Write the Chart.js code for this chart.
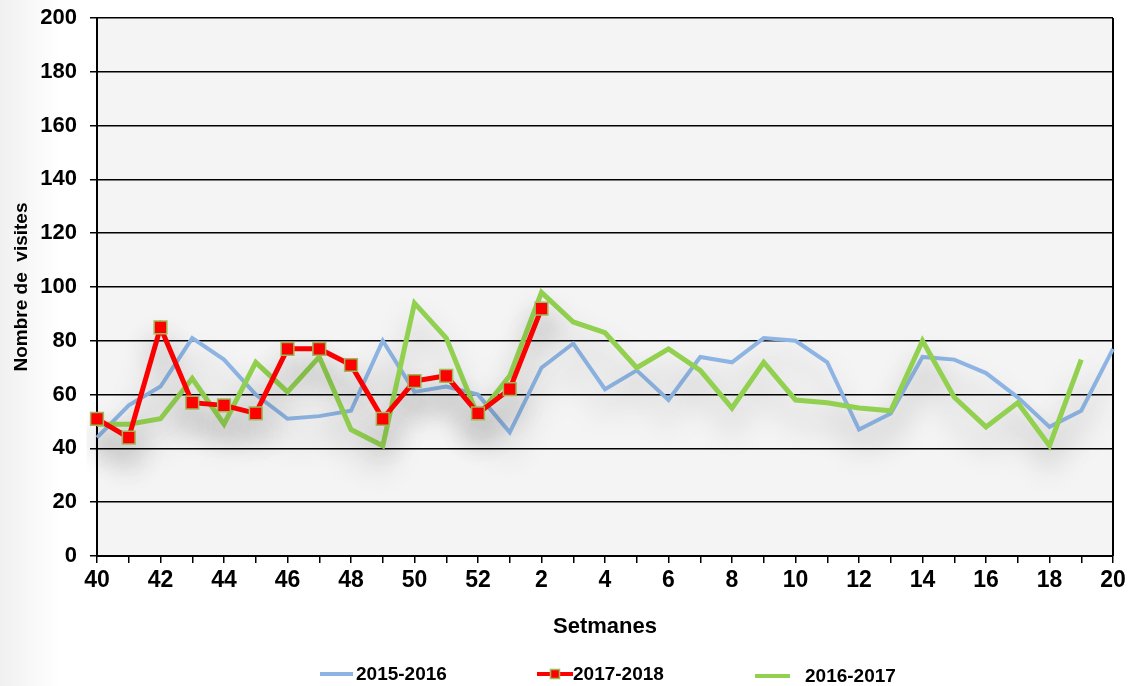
<!DOCTYPE html>
<html><head><meta charset="utf-8">
<script src="https://cdn.jsdelivr.net/npm/chart.js@4/dist/chart.umd.min.js"></script>
<style>html,body{margin:0;padding:0;background:#fff;}#wrap{width:1132px;height:686px;position:relative;}</style>
</head><body><div id="wrap"><canvas id="c" width="1132" height="686"></canvas></div>
<script>
const weeks = ['40','41','42','43','44','45','46','47','48','49','50','51','52','1','2','3','4','5','6','7','8','9','10','11','12','13','14','15','16','17','18','19','20'];
const season1516 = [44,56,63,81,73,60,51,52,54,80,61,63,60,46,70,79,62,69,58,74,72,81,80,72,47,53,74,73,68,59,48,54,77];
const season1718 = [51,44,85,57,56,53,77,77,71,51,65,67,53,62,92];
const season1617 = [49,49,51,66,49,72,61,74,47,41,94,81,52,67,98,87,83,70,77,69,55,72,58,57,55,54,80,59,48,57,41,73];
const yTicks = [0,20,40,60,80,100,120,140,160,180,200];
const legendOrder = ['2015-2016','2017-2018','2016-2017'];

const BLUE = '#8DB4E2', RED = '#FF0000', GREEN = '#92D050';
const FONT = "'Liberation Sans', Arial, sans-serif";

const bgPlugin = {
  id: 'bg',
  beforeDraw(chart) {
    const {ctx, chartArea: a, width, height} = chart;
    ctx.save();
    ctx.fillStyle = '#ffffff';
    ctx.fillRect(0, 0, width, height);
    let g = ctx.createLinearGradient(0, 0, 60, 0);
    g.addColorStop(0, 'rgba(0,0,0,0.06)');
    g.addColorStop(1, 'rgba(0,0,0,0)');
    ctx.fillStyle = g;
    ctx.fillRect(0, 0, 60, height);
    ctx.fillStyle = '#f4f4f4';
    ctx.fillRect(a.left, a.top, a.right - a.left, a.bottom - a.top);
    ctx.restore();
  },
  beforeDatasetsDraw(chart) {
    const {ctx, chartArea: a} = chart;
    ctx.save();
    ctx.strokeStyle = '#000';
    ctx.lineWidth = 2;
    ctx.beginPath();
    ctx.moveTo(a.right, a.top);
    ctx.lineTo(a.right, a.bottom);
    ctx.stroke();
    ctx.restore();
    ctx.save();
    ctx.shadowColor = 'rgba(0,0,0,0.28)';
    ctx.shadowBlur = 30;
    ctx.shadowOffsetY = 20;
  },
  afterDatasetsDraw(chart) {
    chart.ctx.restore();
  },
  afterDraw(chart) {
    const ctx = chart.ctx;
    const ds = chart.data.datasets;
    const find = l => ds.find(d => d.label === l);
    const items = [
      {d: find(legendOrder[0]), x1: 320, x2: 353, tx: 356, y: 674, box: false},
      {d: find(legendOrder[1]), x1: 537, x2: 573, tx: 573, y: 674, box: false},
      {d: find(legendOrder[2]), x1: 755, x2: 790, tx: 805, y: 676, box: true}
    ];
    ctx.save();
    items.forEach(it => {
      if (it.box) {
        ctx.fillStyle = '#ffffff';
        ctx.fillRect(792, 661, 127, 25);
      }
      ctx.strokeStyle = it.d.borderColor;
      ctx.lineWidth = 4;
      ctx.beginPath();
      ctx.moveTo(it.x1, it.y);
      ctx.lineTo(it.x2, it.y);
      ctx.stroke();
      if (it.d.pointRadius > 0) {
        const m = (it.x1 + it.x2) / 2;
        ctx.fillStyle = it.d.pointBackgroundColor;
        ctx.strokeStyle = it.d.pointBorderColor;
        ctx.lineWidth = 1.5;
        ctx.fillRect(m - 4.5, it.y - 4.5, 9, 9);
        ctx.strokeRect(m - 4.5, it.y - 4.5, 9, 9);
      }
      ctx.fillStyle = '#000';
      ctx.font = "bold 19px " + FONT;
      ctx.textBaseline = 'middle';
      ctx.textAlign = 'left';
      ctx.fillText(it.d.label, it.tx, it.y + 1);
    });
    ctx.restore();
  }
};

new Chart(document.getElementById('c'), {
  type: 'line',
  data: {
    labels: weeks,
    datasets: [
      {label: '2017-2018', data: season1718, borderColor: RED, backgroundColor: RED, borderWidth: 5,
       pointStyle: 'rect', pointRadius: 9, pointBackgroundColor: RED, pointBorderColor: '#9BBB59', pointBorderWidth: 1.5,
       tension: 0, order: 0},
      {label: '2016-2017', data: season1617, borderColor: GREEN, backgroundColor: GREEN, borderWidth: 5,
       pointRadius: 0, tension: 0, order: 1},
      {label: '2015-2016', data: season1516, borderColor: BLUE, backgroundColor: BLUE, borderWidth: 4,
       pointRadius: 0, tension: 0, order: 2}
    ]
  },
  options: {
    responsive: false,
    animation: false,
    layout: {padding: {top: 18, right: 19, left: 0, bottom: 0}},
    plugins: {legend: {display: false}, tooltip: {enabled: false}},
    scales: {
      x: {
        type: 'category',
        offset: false,
        grid: {display: true, drawOnChartArea: false, drawTicks: true, tickLength: 7, color: '#000', lineWidth: 1.5},
        border: {display: true, color: '#000', width: 2},
        ticks: {autoSkip: false, maxRotation: 0, minRotation: 0, color: '#000', padding: 4,
                font: {family: FONT, size: 23, weight: 'bold'},
                callback: (v, i) => (i % 2 === 0 ? weeks[i] : '')},
        title: {display: true, text: 'Setmanes', color: '#000', font: {family: FONT, size: 22, weight: 'bold'},
                padding: {top: 0, bottom: 46}},
        afterFit: s => { s.height = 130; s.paddingLeft = 0; s.paddingRight = 0; }
      },
      y: {
        min: 0, max: 200,
        afterBuildTicks: s => { s.ticks = yTicks.map(v => ({value: v})); },
        grid: {color: '#000', lineWidth: 1.5, drawTicks: true, tickLength: 7},
        border: {display: true, color: '#000', width: 2},
        ticks: {color: '#000', padding: 13, font: {family: FONT, size: 22, weight: 'bold'}},
        title: {display: true, text: 'Nombre de  visites', color: '#000', font: {family: FONT, size: 19, weight: 'bold'},
                padding: {top: 10, bottom: 0}},
        afterFit: s => { s.width = 97; s.paddingTop = 0; s.paddingBottom = 0; }
      }
    }
  },
  plugins: [bgPlugin]
});
</script>
</body></html>
